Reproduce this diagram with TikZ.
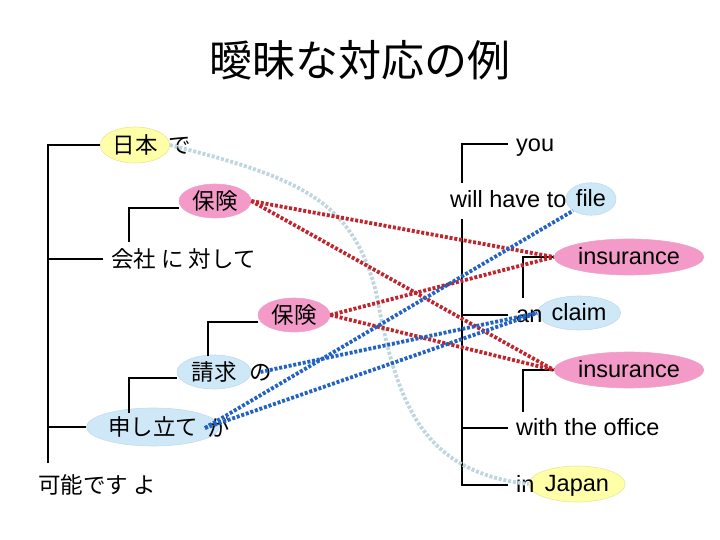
\documentclass[tikz,border=0pt]{standalone}
\usepackage{fontspec}
\setmainfont{Liberation Sans}
\newfontfamily\jpfont{Noto Sans CJK JP}
\usetikzlibrary{shapes.geometric}
\definecolor{mark-yellow}{HTML}{FFFFA8}
\definecolor{mark-yellow-border}{HTML}{E6E6A0}
\definecolor{mark-pink}{HTML}{F39AC8}
\definecolor{mark-pink-border}{HTML}{E8A8C8}
\definecolor{mark-blue}{HTML}{CFE8F8}
\definecolor{mark-blue-border}{HTML}{C0DCEC}
\definecolor{link-red-color}{HTML}{C0242C}
\definecolor{link-blue-color}{HTML}{2262C4}
\definecolor{link-pale-color}{HTML}{BFD6DE}
\tikzset{
  jp-word/.style={font=\jpfont\fontsize{22.5}{26}\selectfont, inner sep=2pt,
    text height=18pt, text depth=1pt},
  en-word/.style={font=\fontsize{23.5}{28}\selectfont, inner sep=2pt,
    text height=17pt, text depth=2pt},
  hl-word/.style={ellipse, inner sep=0pt},
  hl-y/.style={hl-word, fill=mark-yellow, draw=mark-yellow-border, line width=0.6pt},
  hl-p/.style={hl-word, fill=mark-pink, draw=mark-pink-border, line width=0.6pt},
  hl-b/.style={hl-word, fill=mark-blue, draw=mark-blue-border, line width=0.6pt},
  tree/.style={line width=2.2pt, draw=black},
  link/.style={line width=3.8pt, dash pattern=on 3pt off 1.8pt},
  link-red/.style={link, draw=link-red-color},
  link-blue/.style={link, draw=link-blue-color},
  link-pale/.style={link, draw=link-pale-color}
}

\begin{document}
\begin{tikzpicture}[x=1pt, y=-1pt]
  \useasboundingbox (0,0) rectangle (720,540);
  \node[font=\jpfont\fontsize{43}{48}\selectfont] (title) at (360,60) {曖昧な対応の例};

  % Japanese side
  \node[hl-y, minimum width=66, minimum height=36, jp-word] (nihon) at (135,145) {日本};
  \node[jp-word, anchor=west] (de) at (166,145) {で};
  \node[hl-p, minimum width=72, minimum height=34, jp-word] (hoken-a) at (215,201) {保険};
  \node[jp-word, anchor=west, inner xsep=8pt] (kaisha) at (103,259) {会社 に 対して};
  \node[hl-p, minimum width=72, minimum height=34, jp-word] (hoken-b) at (294,315) {保険};
  \node[hl-b, minimum width=74, minimum height=34, jp-word] (seikyu) at (214,372) {請求};
  \node[jp-word, anchor=west] (no) at (247,372) {の};
  \node[hl-b, minimum width=106, minimum height=38, jp-word] (moushitate) at (153,427) {申し立て};
  \node[jp-word, anchor=west] (ga) at (205,428) {が};
  \node[jp-word, anchor=west] (kanou) at (36,485) {可能です よ};

  % English side
  \node[en-word, anchor=west, inner xsep=8pt] (you) at (508,144) {you};
  \node[hl-b, minimum width=50, minimum height=30, en-word] (file) at (591,199) {file};
  \node[en-word, anchor=west] (willhave) at (448,200) {will have to};
  \node[hl-p, minimum width=134, minimum height=36, en-word] (ins-a) at (629,257) {insurance};
  \node[hl-b, minimum width=74, minimum height=34, en-word] (claim) at (579,313) {claim};
  \node[en-word, anchor=west, inner xsep=8pt] (an) at (508,315) {an};
  \node[hl-p, minimum width=134, minimum height=36, en-word] (ins-b) at (629,370) {insurance};
  \node[en-word, anchor=west, inner xsep=8pt] (office) at (508,428) {with the office};
  \node[hl-y, minimum width=78, minimum height=36, en-word] (japan) at (577,484) {Japan};
  \node[en-word, anchor=west, inner xsep=8pt] (in) at (508,485) {in};

  % dependency trees
  \coordinate (ltrunk) at (48,463);
  \draw[tree] (ltrunk) |- (nihon.west);
  \draw[tree] (ltrunk |- kaisha.west) -- (kaisha.west);
  \draw[tree] (ltrunk |- moushitate.west) -- (moushitate.west);
  \coordinate (kaisha-top) at (129,242);
  \draw[tree] (kaisha-top) |- ([yshift=-7pt]hoken-a.west);
  \coordinate (seikyu-top) at (208,356);
  \draw[tree] (seikyu-top) |- ([yshift=-7pt]hoken-b.west);
  \coordinate (moushitate-top) at (129,413);
  \draw[tree] (moushitate-top) |- ([yshift=-6pt]seikyu.west);

  \coordinate (rtop) at (462,183);
  \coordinate (rbot) at (462,219);
  \draw[tree] (rtop) |- (you.west);
  \draw[tree] (rbot) |- (in.west);
  \draw[tree] (rbot |- an.west) -- (an.west);
  \draw[tree] (rbot |- office.west) -- (office.west);
  \coordinate (claim-top) at (523,298);
  \draw[tree] (claim-top) |- (ins-a.west);
  \coordinate (office-top) at (523,412);
  \draw[tree] (office-top) |- (ins-b.west);

  % alignment links
  \coordinate (pale-mid) at (376,292);
  \draw[link-pale] (nihon.east) .. controls (300,178) and (352,200) .. (pale-mid)
    .. controls (396,400) and (420,472) .. (japan.west);
  \draw[link-red] (hoken-a.east) -- (ins-a.west);
  \draw[link-red] (hoken-a.east) -- (ins-b.west);
  \draw[link-red] (hoken-b.east) -- (ins-a.west);
  \draw[link-red] (hoken-b.east) -- (ins-b.west);
  \draw[link-blue] (no.center) -- (claim.west);
  \draw[link-blue] (ga.west) -- (file.south west);
  \draw[link-blue] (ga.west) -- (claim.west);
\end{tikzpicture}
\end{document}
